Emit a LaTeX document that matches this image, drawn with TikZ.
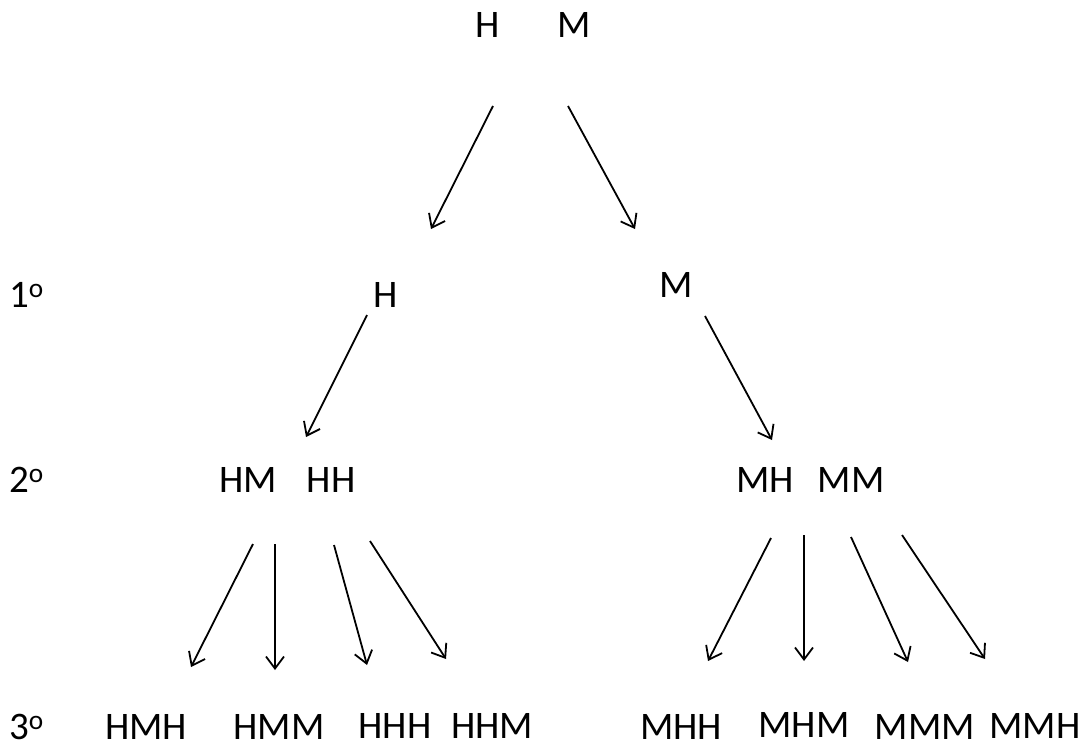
\documentclass[tikz,border=0pt]{standalone}
\usepackage{fontspec}
\setmainfont{Carlito}
\usetikzlibrary{arrows.meta}
\begin{document}
\begin{tikzpicture}[x=1pt,y=-1pt,
  lbl/.style={anchor=base,inner sep=0pt,font=\fontsize{39}{46}\selectfont},
  lvl/.style={anchor=base west,inner sep=0pt,font=\fontsize{39}{46}\selectfont},
  arr/.style={line width=1.8pt,-{Straight Barb[length=12pt,width=18pt,line width=1.8pt]}}]
\useasboundingbox (0,0) rectangle (1086,747);
% level markers
\node[lvl] (l1) at (9,307) {1\textsuperscript{o}};
\node[lvl] (l2) at (9,492) {2\textsuperscript{o}};
\node[lvl] (l3) at (9,739) {3\textsuperscript{o}};
% root
\node[lbl] (rH) at (488,37) {H};
\node[lbl] (rM) at (574,37) {M};
% first level
\node[lbl] (aH) at (386,307) {H};
\node[lbl] (aM) at (676,297) {M};
% second level
\node[lbl] (bHM) at (248,492) {HM};
\node[lbl] (bHH) at (331,492) {HH};
\node[lbl] (bMH) at (765,492) {MH};
\node[lbl] (bMM) at (851,492) {MM};
% third level
\node[lbl] (cHMH) at (146,739) {HMH};
\node[lbl] (cHMM) at (279,739) {HMM};
\node[lbl] (cHHH) at (395,738) {HHH};
\node[lbl] (cHHM) at (492,738) {HHM};
\node[lbl] (cMHH) at (681,739) {MHH};
\node[lbl] (cMHM) at (804,737) {MHM};
\node[lbl] (cMMM) at (925,739) {MMM};
\node[lbl] (cMMH) at (1035,738) {MMH};
% arrow end points
\coordinate (s1) at (493,106); \coordinate (e1) at (431,229);
\coordinate (s2) at (568,106); \coordinate (e2) at (635,229);
\coordinate (s3) at (367,315); \coordinate (e3) at (306,437);
\coordinate (s4) at (705,316); \coordinate (e4) at (772,440);
\coordinate (s5) at (253,544); \coordinate (e5) at (191,667);
\coordinate (s6) at (275,544); \coordinate (e6) at (275,670);
\coordinate (s7) at (334,545); \coordinate (e7) at (367,665);
\coordinate (s8) at (370,541); \coordinate (e8) at (446,659);
\coordinate (s9) at (771,538); \coordinate (e9) at (708,661);
\coordinate (s10) at (804,535); \coordinate (e10) at (804,661);
\coordinate (s11) at (851,537); \coordinate (e11) at (908,662);
\coordinate (s12) at (902,535); \coordinate (e12) at (985,659);
\foreach \i in {1,...,12} \draw[arr] (s\i) -- (e\i);
\end{tikzpicture}
\end{document}
